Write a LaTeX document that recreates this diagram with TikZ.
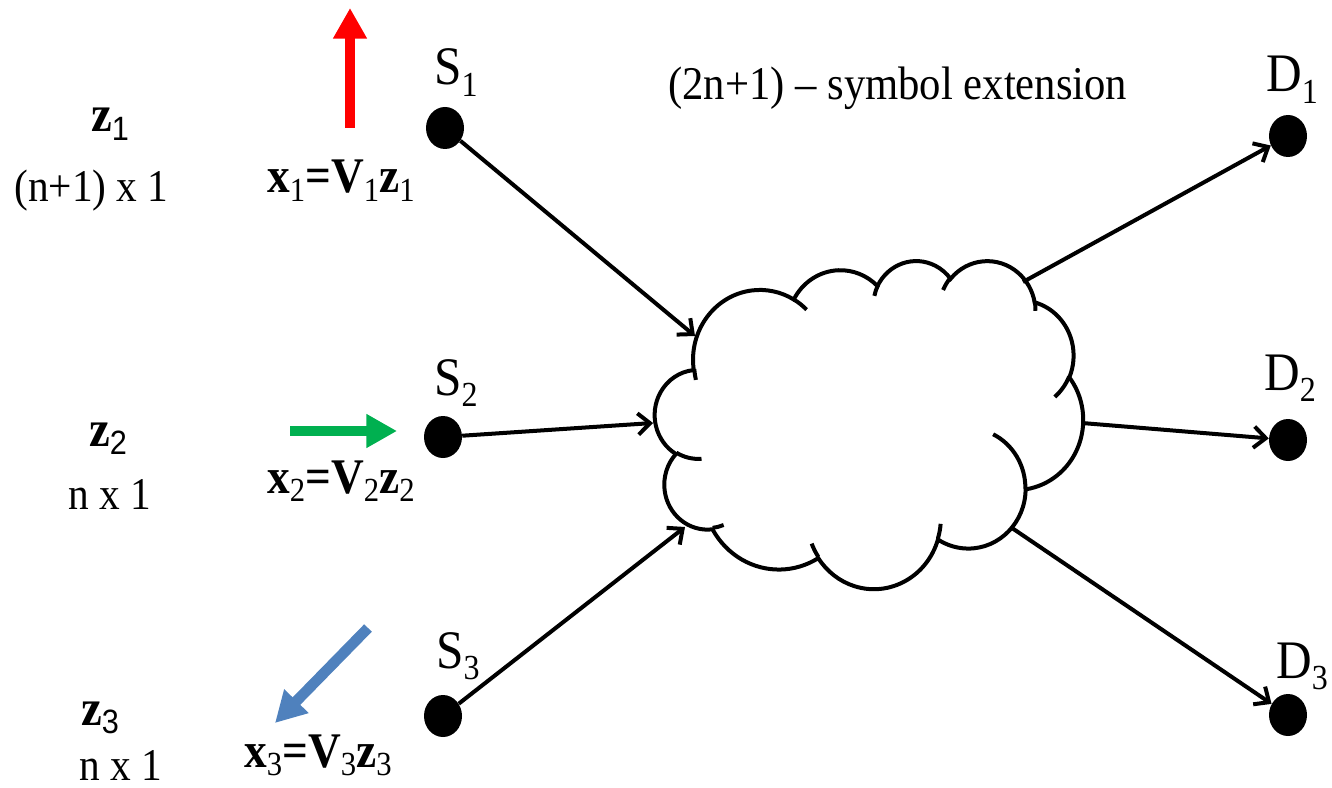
\documentclass[tikz,border=0pt]{standalone}
\usepackage{fontspec}
\setmainfont{Liberation Serif}
\newfontfamily\sansf{Liberation Sans}
\usetikzlibrary{arrows.meta,shapes.geometric}
\definecolor{pgreen}{HTML}{00B050}
\definecolor{pblue}{HTML}{4F81BD}
\definecolor{pred}{HTML}{FF0000}
\newcommand\vst[1]{\scalebox{1}[1.1]{#1}}
\newcommand\SDlab[2]{\vst{\fontsize{37}{40}\selectfont #1\raisebox{-8pt}{\fontsize{24}{24}\selectfont #2}}}
\newcommand\xsb[1]{\raisebox{-6pt}{\fontsize{23}{23}\selectfont\mdseries #1}}
\newcommand\zsb[1]{\raisebox{-6pt}{\fontsize{23}{23}\selectfont\sansf\mdseries #1}}
\tikzset{
  lbl/.style={inner sep=0pt, anchor=base west},
  dot/.style={ellipse, fill=black, minimum width=28.5pt, minimum height=31.5pt, inner sep=0pt},
  conn/.style={line width=3pt, -{Straight Barb[length=9pt,width=16pt]}},
  fat/.style={line width=8pt, -{Triangle[length=23pt,width=24pt]}},
  cl/.style={line width=3pt}
}
\begin{document}
\begin{tikzpicture}[x=0.75pt,y=-0.75pt]
\useasboundingbox (0,0) rectangle (1332,788);

% cloud
\begin{scope}[shift={(655,260)}, x=0.074306pt, y=-0.056944pt]
\draw[cl] (390,1437)
  \foreach \a/\b/\s/\w in {675.3/919.0/-190.4875/123.7805,
    533.3/726.7/-144.1024/89.9452,
    436.5/594.5/-145.8079/99.7230,
    485.7/659.5/-130.9861/117.2417,
    533.3/727.3/-78.7089/109.0269,
    677.5/922.0/-46.2673/130.2690,
    578.5/786.7/0.6250/114.0333,
    675.2/921.5/22.4516/115.1726,
    772.0/1054.3/66.2426/75.7110,
    436.0/591.8/-274.9421/146.7356,
    434.5/594.5/-246.8285/152.5189}{
    \pgfextra{%
      \pgfmathsetmacro\tA{atan2(\a*sin(\s),\b*cos(\s))}%
      \pgfmathsetmacro\tB{atan2(\a*sin(\s+\w),\b*cos(\s+\w))}%
      \pgfmathsetmacro\dd{\tB-\tA-\w}%
      \pgfmathsetmacro\dT{\w+\dd-360*round(\dd/360)}%
      \xdef\gA{\tA}\xdef\gD{\dT}}
    arc[start angle=\gA, delta angle=\gD, x radius=\a, y radius=\b]
  } -- cycle;
\draw[cl]
  \foreach \px/\py/\a/\b/\s/\w in {469.3/2617.7/434.5/594.5/86.7420/26.4295,
    692.8/3489.9/436.0/591.8/73.6105/11.4475,
    1647.8/3909.0/675.2/921.5/137.6242/14.0811,
    2882.7/3475.1/675.2/921.5/6.4533/15.9984,
    3412.9/2295.4/578.5/786.7/-70.2924/70.9174,
    4179.8/1535.4/533.3/727.3/30.3180/27.7515,
    3832.4/542.6/485.7/659.5/-13.7443/14.8589,
    2907.8/395.2/485.7/659.5/-149.1815/18.1954,
    2214.1/472.0/436.5/594.5/-163.4943/17.6864,
    1400.0/519.2/675.3/919.0/-66.7070/12.3194,
    412.7/1578.9/675.3/919.0/162.0336/11.8568}{
    (\px,\py)
    \pgfextra{%
      \pgfmathsetmacro\tA{atan2(\a*sin(\s),\b*cos(\s))}%
      \pgfmathsetmacro\tB{atan2(\a*sin(\s+\w),\b*cos(\s+\w))}%
      \pgfmathsetmacro\dd{\tB-\tA-\w}%
      \pgfmathsetmacro\dT{\w+\dd-360*round(\dd/360)}%
      \xdef\gA{\tA}\xdef\gD{\dT}}
    arc[start angle=\gA, delta angle=\gD, x radius=\a, y radius=\b]
  };
\end{scope}

% cloud contact points
\coordinate (c1) at (695,336);
\coordinate (c2) at (653,423);
\coordinate (c3) at (685,527);
\coordinate (c4) at (1023,282);
\coordinate (c5) at (1082,423);
\coordinate (c6) at (1012,528);

% dots
\node[dot] (S1) at (445,128) {};
\node[dot] (S2) at (443,437) {};
\node[dot] (S3) at (443,716) {};
\node[dot] (D1) at (1288,136) {};
\node[dot] (D2) at (1288,440) {};
\node[dot] (D3) at (1288,715) {};

% connectors
\draw[conn] (S1) -- (c1);
\draw[conn] (S2) -- (c2);
\draw[conn] (S3) -- (c3);
\draw[conn] (c4) -- (D1);
\draw[conn] (c5) -- (D2);
\draw[conn] (c6) -- (D3);

% colored arrows
\coordinate (r0) at (350,128); \coordinate (r1) at (350,8);
\coordinate (g0) at (290,431); \coordinate (g1) at (397,431);
\coordinate (b0) at (368,628); \coordinate (b1) at (275,723);
\draw[fat, pred] (r0) -- (r1);
\draw[fat, pgreen] (g0) -- (g1);
\draw[fat, pblue] (b0) -- (b1);

% labels
\node[lbl] (S1l) at (434,85) {\SDlab{S}{1}};
\node[lbl] (S2l) at (434,395) {\SDlab{S}{2}};
\node[lbl] (S3l) at (436,668) {\SDlab{S}{3}};
\node[lbl] (D1l) at (1266,92) {\SDlab{D}{1}};
\node[lbl] (D2l) at (1264,390) {\SDlab{D}{2}};
\node[lbl] (D3l) at (1276,678) {\SDlab{D}{3}};
\node[lbl] (title) at (668,100) {\vst{\fontsize{32}{38}\selectfont (2n+1) – symbol extension}};

\node[lbl] (z1) at (91,132) {\vst{\fontsize{35}{40}\selectfont\textbf{z}\zsb{1}}};
\node[lbl] (z1d) at (14,202) {\vst{\fontsize{31}{36}\selectfont (n+1) x 1}};
\node[lbl] (z2) at (89,446) {\vst{\fontsize{35}{40}\selectfont\textbf{z}\zsb{2}}};
\node[lbl] (z2d) at (68,509) {\vst{\fontsize{31}{36}\selectfont n x 1}};
\node[lbl] (z3) at (81,725) {\vst{\fontsize{35}{40}\selectfont\textbf{z}\zsb{3}}};
\node[lbl] (z3d) at (79,780) {\vst{\fontsize{31}{36}\selectfont n x 1}};

\node[lbl] (x1) at (267,193) {\vst{\fontsize{34}{40}\selectfont\bfseries x\xsb{1}=V\xsb{1}z\xsb{1}}};
\node[lbl] (x2) at (267,493) {\vst{\fontsize{34}{40}\selectfont\bfseries x\xsb{2}=V\xsb{2}z\xsb{2}}};
\node[lbl] (x3) at (244,767) {\vst{\fontsize{34}{40}\selectfont\bfseries x\xsb{3}=V\xsb{3}z\xsb{3}}};
\end{tikzpicture}
\end{document}
